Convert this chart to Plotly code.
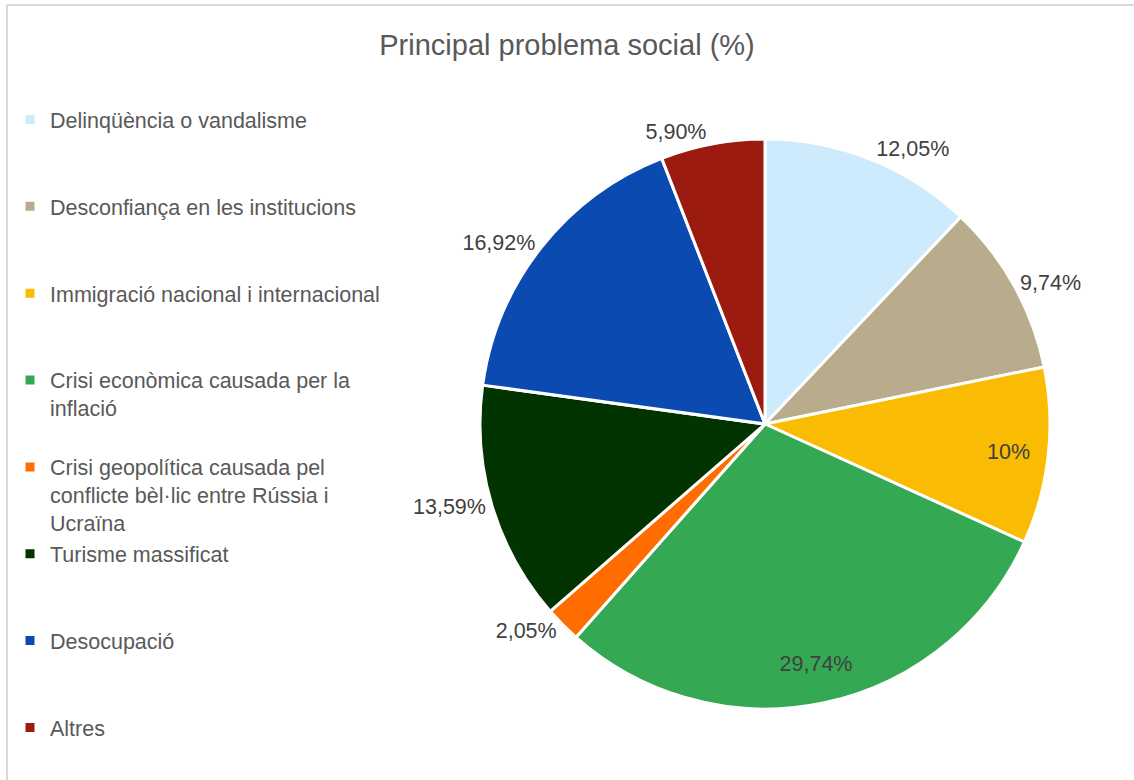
import plotly.graph_objects as go

categories = [
    "Delinqüència o vandalisme",
    "Desconfiança en les institucions",
    "Immigració nacional i internacional",
    "Crisi econòmica causada per la<br>inflació",
    "Crisi geopolítica causada pel<br>conflicte bèl·lic entre Rússia i<br>Ucraïna",
    "Turisme massificat",
    "Desocupació",
    "Altres",
]
values = [12.05, 9.74, 10.0, 29.74, 2.05, 13.59, 16.92, 5.90]
colors = ["#CDEBFC", "#B8AC8C", "#F9BC02", "#35A853", "#FF6D00", "#013401", "#0B4AB0", "#9B1B11"]
label_inside = [False, False, True, True, False, False, False, False]


def fmt(v):
    if abs(v - round(v)) < 1e-9:
        return f"{int(round(v))}%"
    return f"{v:.2f}".replace(".", ",") + "%"


def pad(label, lines=3):
    n = label.count("<br>") + 1
    return label + "<br>\u00a0" * (lines - n)


legend_labels = [pad(c) for c in categories[:-1]] + [categories[-1]]
texts = [fmt(v) for v in values]

W, H = 1134, 780
cx, cy, r = 765, 424, 285
FONT = "Liberation Sans, Arial"
domain = dict(x=[(cx - r) / W, (cx + r) / W], y=[(H - cy - r) / H, (H - cy + r) / H])
tfont = dict(family=FONT, size=21.5, color="#404040")

# main pie: slices + outside labels
fig = go.Figure(
    go.Pie(
        labels=legend_labels,
        values=values,
        text=[("" if ins else t) for t, ins in zip(texts, label_inside)],
        textinfo="text",
        textposition=[("none" if ins else "outside") for ins in label_inside],
        sort=False,
        direction="clockwise",
        rotation=0,
        marker=dict(colors=colors, line=dict(color="white", width=3)),
        textfont=tfont,
        outsidetextfont=tfont,
        domain=domain,
        hoverinfo="label+percent",
    )
)

# transparent ring overlay: places the inside labels near the outer edge
fig.add_trace(
    go.Pie(
        labels=[f"ring{i}" for i in range(len(values))],
        values=values,
        text=[(t if ins else "") for t, ins in zip(texts, label_inside)],
        textinfo="text",
        textposition="inside",
        insidetextorientation="horizontal",
        hole=0.72,
        sort=False,
        direction="clockwise",
        rotation=0,
        marker=dict(colors=["rgba(0,0,0,0)"] * len(values), line=dict(width=0)),
        insidetextfont=tfont,
        domain=domain,
        hoverinfo="skip",
        showlegend=False,
    )
)

fig.update_layout(
    width=W,
    height=H,
    margin=dict(l=0, r=0, t=0, b=0),
    paper_bgcolor="white",
    font=dict(family=FONT, color="#595959"),
    title=dict(
        text="Principal problema social (%)",
        x=0.5,
        xanchor="center",
        y=1 - 45 / H,
        yanchor="middle",
        font=dict(size=29, color="#595959"),
    ),
    showlegend=True,
    legend=dict(
        x=10 / W,
        xanchor="left",
        y=1 - 99 / H,
        yanchor="top",
        valign="top",
        bgcolor="rgba(0,0,0,0)",
        font=dict(size=21.5, color="#595959"),
        traceorder="normal",
        maxheight=1,
    ),
    shapes=[
        dict(type="line", xref="paper", yref="paper", x0=7 / W, x1=1, y0=1 - 5 / H, y1=1 - 5 / H,
             line=dict(color="#D9D9D9", width=2), layer="below"),
        dict(type="line", xref="paper", yref="paper", x0=7 / W, x1=7 / W, y0=0, y1=1 - 5 / H,
             line=dict(color="#D9D9D9", width=2), layer="below"),
    ],
)

fig.write_html(
    "out.html",
    config={"displayModeBar": False},
    post_script="document.body.style.margin='0';",
)
